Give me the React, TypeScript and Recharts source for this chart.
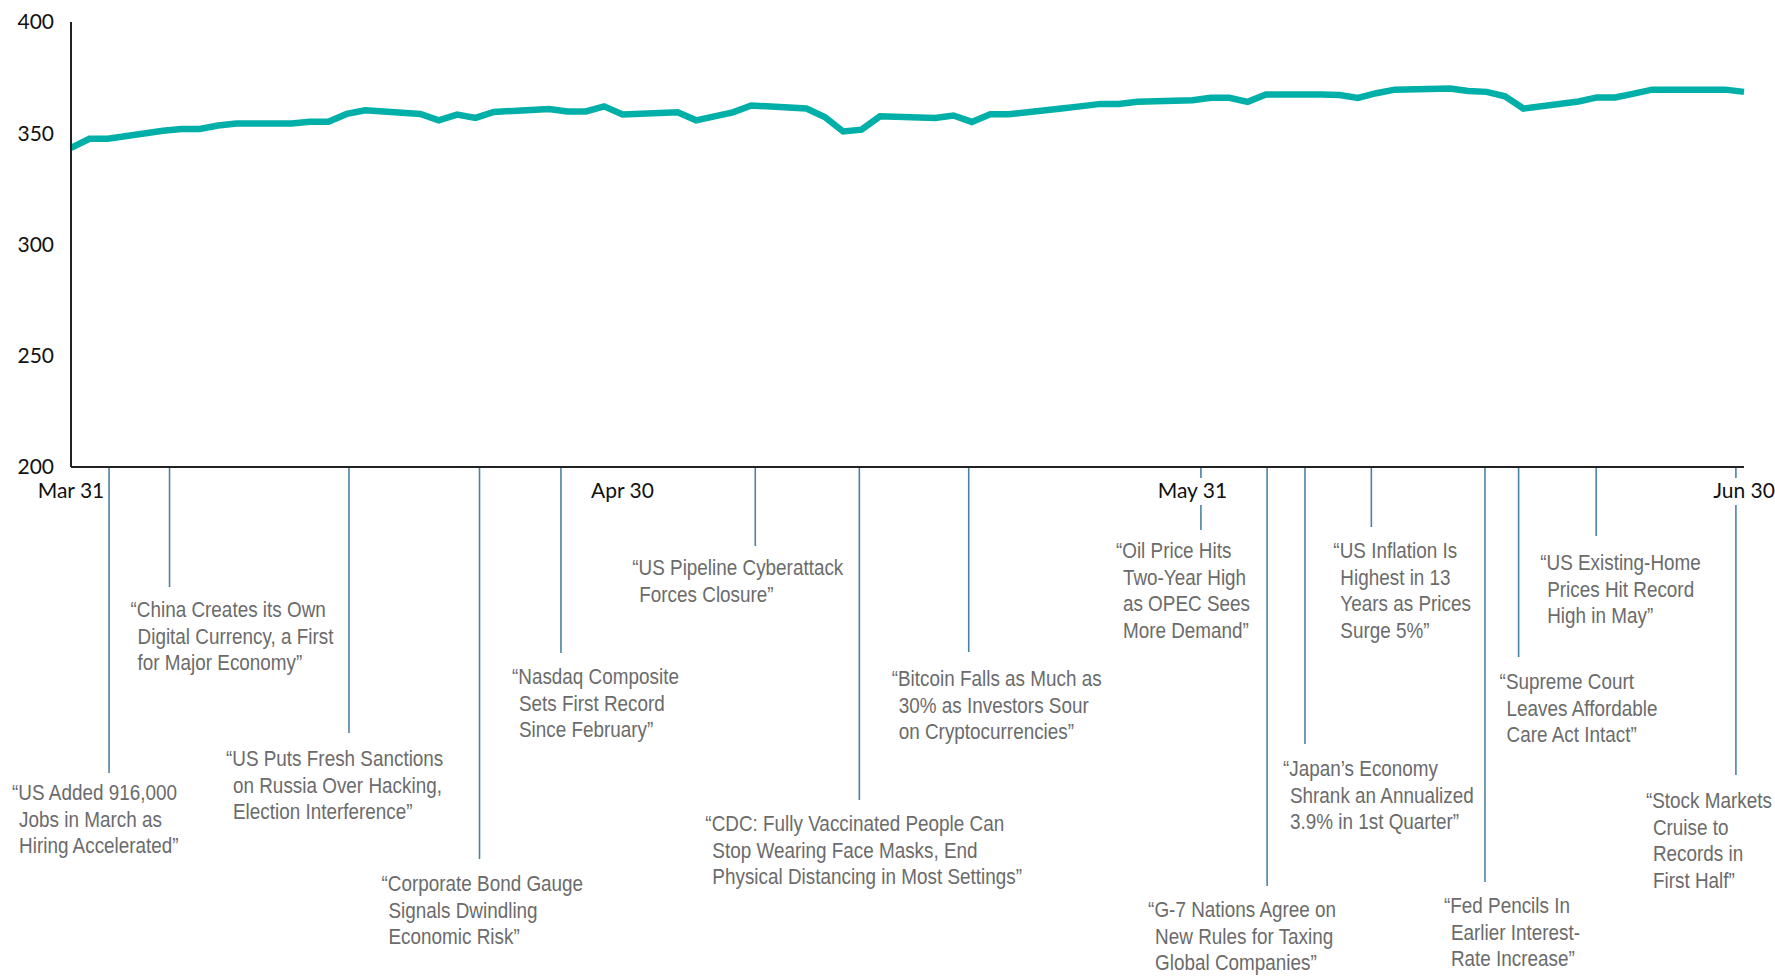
import React from "react"
import { LineChart, Line, XAxis, YAxis, ReferenceLine } from "recharts"

// calendar days since Mar 31, 2021 (trading days only) and index level
const dayOffsets = [
  0, 1, 2, 5, 6, 7, 8, 9, 12, 13, 14, 15, 16, 19, 20, 21, 22, 23, 26, 27, 28, 29, 30,
  33, 34, 35, 36, 37, 40, 41, 42, 43, 44, 47, 48, 49, 50, 51, 54, 55, 56, 57, 58,
  61, 62, 63, 64, 65, 68, 69, 70, 71, 72, 75, 76, 77, 78, 79, 82, 83, 84, 85, 86, 89, 90, 91
]
const indexValues = [
  343.4, 347.5, 347.5, 351.1, 351.9, 351.9, 353.5, 354.4, 354.4, 355.2, 355.2, 358.7, 360.3,
  358.7, 355.8, 358.4, 356.9, 359.6, 360.9, 359.8, 359.8, 362.1, 358.4,
  359.4, 355.8, 357.6, 359.4, 362.5, 361.1, 357.3, 350.8, 351.6, 357.6, 356.9, 358.0, 355.1,
  358.5, 358.5, 361.2, 362.2, 363.2, 363.2, 364.2,
  364.8, 365.9, 365.9, 364.1, 367.4, 367.4, 367.2, 365.9, 368.0, 369.6, 370.1, 369.0, 368.6,
  366.6, 361.1, 364.3, 366.1, 366.1, 367.8, 369.6, 369.6, 369.6, 368.6
]

const tickDays = [0, 30, 61, 91]
const tickLabels = ["Mar 31", "Apr 30", "May 31", "Jun 30"]
const yTicks = [200, 250, 300, 350, 400]

// headline events, placed at the day they appear on the chart
const calloutDays = [2.07, 5.36, 15.12, 22.22, 26.65, 37.22, 42.88, 48.83, 61.46, 65.06, 67.12, 70.73, 76.91, 78.74, 82.96, 90.56]
const calloutHeadlines = [
  ["US Added 916,000", "Jobs in March as", "Hiring Accelerated"],
  ["China Creates its Own", "Digital Currency, a First", "for Major Economy"],
  ["US Puts Fresh Sanctions", "on Russia Over Hacking,", "Election Interference"],
  ["Corporate Bond Gauge", "Signals Dwindling", "Economic Risk"],
  ["Nasdaq Composite", "Sets First Record", "Since February"],
  ["US Pipeline Cyberattack", "Forces Closure"],
  ["CDC: Fully Vaccinated People Can", "Stop Wearing Face Masks, End", "Physical Distancing in Most Settings"],
  ["Bitcoin Falls as Much as", "30% as Investors Sour", "on Cryptocurrencies"],
  ["Oil Price Hits", "Two-Year High", "as OPEC Sees", "More Demand"],
  ["G-7 Nations Agree on", "New Rules for Taxing", "Global Companies"],
  ["Japan\u2019s Economy", "Shrank an Annualized", "3.9% in 1st Quarter"],
  ["US Inflation Is", "Highest in 13", "Years as Prices", "Surge 5%"],
  ["Fed Pencils In", "Earlier Interest-", "Rate Increase"],
  ["Supreme Court", "Leaves Affordable", "Care Act Intact"],
  ["US Existing-Home", "Prices Hit Record", "High in May"],
  ["Stock Markets", "Cruise to", "Records in", "First Half"]
]

// leader length below the axis, text offset from the leader, text drop below leader end (px)
const calloutLayout = [
  { drop: 306, dx: -90, dy: 19 },
  { drop: 120, dx: -32, dy: 22 },
  { drop: 266, dx: -116, dy: 25 },
  { drop: 392, dx: -91, dy: 24 },
  { drop: 186, dx: -42, dy: 23 },
  { drop: 79, dx: -116, dy: 21 },
  { drop: 333, dx: -147, dy: 23 },
  { drop: 185, dx: -70, dy: 26 },
  { drop: 63, dx: -78, dy: 20 },
  { drop: 419, dx: -112, dy: 23 },
  { drop: 277, dx: -15, dy: 24 },
  { drop: 60, dx: -31, dy: 23 },
  { drop: 415, dx: -34, dy: 23 },
  { drop: 190, dx: -12, dy: 24 },
  { drop: 69, dx: -49, dy: 26 },
  { drop: 308, dx: -83, dy: 25 }
]

const chartData = dayOffsets.map((d, i) => ({ day: d, value: indexValues[i] }))

const axisFont = "Lato, 'Open Sans', sans-serif"
// no narrow face installed, so squeeze Liberation Sans horizontally
const calloutFont = "'Liberation Sans', Arial, sans-serif"
const narrow = 0.84

function Callout(props: any) {
  const { x1, y1, y2, idx } = props
  const base = Math.max(y1, y2)
  const lay = calloutLayout[idx]
  const lines = calloutHeadlines[idx]
  const bottom = base + lay.drop
  const left = x1 + lay.dx
  const top = bottom + lay.dy
  return (
    <g>
      <line x1={x1} y1={base} x2={x1} y2={bottom} stroke="#4a83a2" strokeWidth={1.6} />
      <g transform={`translate(${left},${top}) scale(${narrow},1)`}>
        <text fontFamily={calloutFont} fontSize={22.5} fill="#6b6b6b">
          {lines.map((t, i) => (
            <tspan key={i} x={i === 0 ? -7 / narrow : 0} y={i * 26.8} dy="0.35em">
              {(i === 0 ? "\u201C" : "") + t + (i === lines.length - 1 ? "\u201D" : "")}
            </tspan>
          ))}
        </text>
      </g>
    </g>
  )
}

function DateTick(props: any) {
  const { x, y, payload } = props
  const label = tickLabels[tickDays.indexOf(payload.value)]
  return (
    <g>
      <rect x={x - 36} y={y - 5} width={72} height={27} fill="#fff" />
      <text x={x} y={y} dy="0.71em" textAnchor="middle" fontFamily={axisFont} fontSize={21} fill="#111">
        {label}
      </text>
    </g>
  )
}

export default function App() {
  return (
    <div
      style={{
        position: "fixed",
        left: 0,
        top: 0,
        width: 1775,
        height: 977,
        background: "#fff",
        overflow: "hidden"
      }}
    >
      <LineChart
        width={1775}
        height={977}
        data={chartData}
        margin={{ top: 22, right: 31, bottom: 480, left: 0 }}
      >
        {calloutDays.map((d, i) => (
          <ReferenceLine
            key={i}
            x={d}
            ifOverflow="visible"
            shape={(p: any) => <Callout {...p} idx={i} />}
          />
        ))}
        <XAxis
          dataKey="day"
          type="number"
          domain={[0, 91]}
          ticks={tickDays}
          tickLine={false}
          tickSize={0}
          tickMargin={16}
          height={30}
          axisLine={{ stroke: "#222", strokeWidth: 2 }}
          tick={<DateTick />}
        />
        <YAxis
          type="number"
          domain={[200, 400]}
          ticks={yTicks}
          width={71}
          tickLine={false}
          tickSize={0}
          tickMargin={17}
          axisLine={{ stroke: "#222", strokeWidth: 2 }}
          tick={{ fontFamily: axisFont, fontSize: 21, fill: "#111" }}
        />
        <Line
          type="linear"
          dataKey="value"
          stroke="#00b0a8"
          strokeWidth={6.5}
          dot={false}
          isAnimationActive={false}
        />
      </LineChart>
    </div>
  )
}
